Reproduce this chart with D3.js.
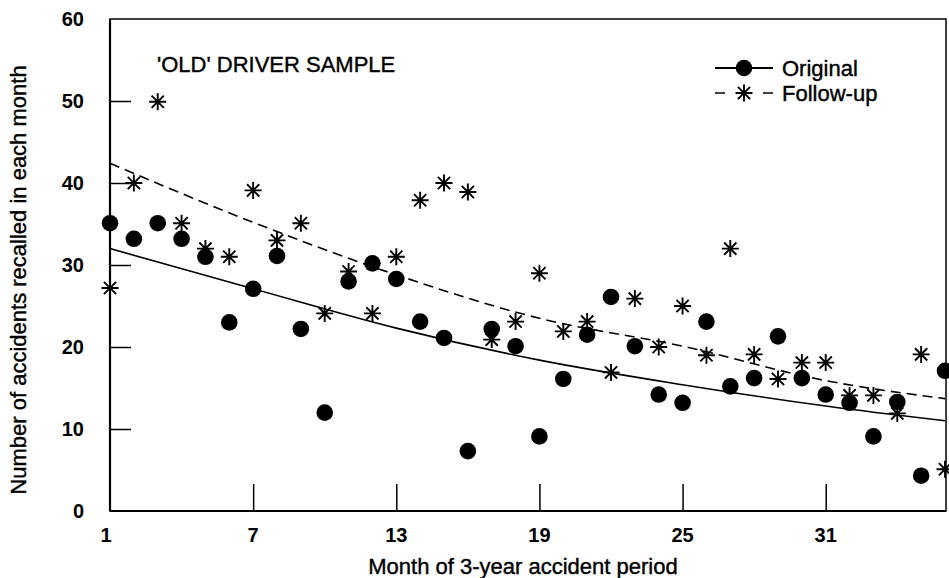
<!DOCTYPE html>
<html lang="en">
<head>
  <meta charset="utf-8" />
  <script src="https://d3js.org/d3.v7.min.js"></script>
  <title>'OLD' driver sample - accidents recalled by month</title>
  <style>
    body { margin: 0; background: #fff; }
    svg { display: block; }
    text { font-family: "Liberation Sans", Arial, Helvetica, sans-serif; fill: #000; }
    /* the scan makes the type look a bit heavier than plain regular */
    text.heavy { stroke: #000; stroke-width: 0.4px; }
  </style>
</head>
<body>
<svg width="949" height="578"></svg>
<script>

// months of the 3-year period
var months = [1, 2, 3, 4, 5, 6, 7, 8, 9, 10, 11, 12, 13, 14, 15, 16, 17, 18,
              19, 20, 21, 22, 23, 24, 25, 26, 27, 28, 29, 30, 31, 32, 33, 34, 35, 36];

// accidents recalled
var original = [35.1, 33.2, 35.1, 33.2, 31.0, 23.0, 27.1, 31.1, 22.2, 12.0, 28.0, 30.2,
                28.3, 23.1, 21.1, 7.3, 22.2, 20.1, 9.1, 16.1, 21.5, 26.1, 20.1, 14.2,
                13.2, 23.1, 15.2, 16.2, 21.3, 16.2, 14.2, 13.2, 9.1, 13.3, 4.3, 17.1];
var followup = [27.2, 40.0, 49.9, 35.1, 32.0, 31.0, 39.1, 33.0, 35.1, 24.1, 29.2, 24.1,
                31.0, 37.9, 40.0, 38.9, 20.9, 23.1, 29.0, 21.9, 23.1, 16.9, 25.9, 20.0,
                25.0, 19.0, 32.0, 19.1, 16.1, 18.1, 18.1, 14.1, 14.1, 11.9, 19.1, 5.1];

// fitted trend curves, sampled at the tick months
var trendMonths = [1, 7, 13, 19, 25, 31, 36];
var originalTrend = [32.0, 27.1, 22.3, 18.4, 15.4, 12.8, 11.0];
var followupTrend = [42.4, 35.2, 28.8, 23.5, 20.1, 15.9, 13.7];

var xTicks = [1, 7, 13, 19, 25, 31];
var yTicks = [0, 10, 20, 30, 40, 50, 60];

var seriesNames = ["Original", "Follow-up"];
var panelLabel = "'OLD' DRIVER SAMPLE";
var xTitle = "Month of 3-year accident period";
var yTitle = "Number of accidents recalled in each month";

var svg = d3.select("svg");
// plot box (note: "top" is taken by window.top, so prefix these)
var plotLeft = 110, plotRight = 946, plotTop = 19, plotBottom = 511;

var x = d3.scaleLinear().domain([1, 36]).range([plotLeft, plotRight - 1]);
var y = d3.scaleLinear().domain([0, 60]).range([plotBottom, plotTop]);

// frame
svg.append("rect")
  .attr("x", plotLeft).attr("y", plotTop)
  .attr("width", plotRight - plotLeft).attr("height", plotBottom - plotTop)
  .attr("fill", "none").attr("stroke", "#000").attr("stroke-width", 1.5);

svg.append("line")
  .attr("x1", plotLeft).attr("x2", plotLeft).attr("y1", plotTop).attr("y2", plotBottom)
  .attr("stroke", "#000").attr("stroke-width", 2.2);
svg.append("line")
  .attr("x1", plotLeft).attr("x2", plotRight).attr("y1", plotBottom).attr("y2", plotBottom)
  .attr("stroke", "#000").attr("stroke-width", 2.2);

// axes - ticks point inward
var yAxis = svg.append("g")
  .attr("transform", "translate(" + plotLeft + ",0)")
  .call(d3.axisRight(y).tickValues(yTicks).tickSize(21).tickFormat(""));
yAxis.select(".domain").remove();
yAxis.selectAll(".tick line").attr("stroke-width", 1.5);
yAxis.selectAll(".tick").filter(function(d) { return d === 0 || d === 60; }).select("line").remove();

svg.selectAll(".ylab")
  .data(yTicks)
  .enter()
  .append("text")
  .attr("class", "ylab")
  .attr("x", 84)
  .attr("y", function(d) { return y(d); })
  .attr("dy", "0.36em")
  .attr("text-anchor", "end")
  .attr("font-size", 20)
  .attr("font-weight", "bold")
  .text(function(d) { return d; });

var xAxis = svg.append("g")
  .attr("transform", "translate(0," + plotBottom + ")")
  .call(d3.axisTop(x).tickValues(xTicks).tickSize(27).tickFormat(""));
xAxis.select(".domain").remove();
xAxis.selectAll(".tick line").attr("stroke-width", 1.5);
xAxis.selectAll(".tick").filter(function(d) { return d === 1; }).select("line").remove();

svg.selectAll(".xlab")
  .data(xTicks)
  .enter()
  .append("text")
  .attr("class", "xlab")
  .attr("x", function(d) { return d === 1 ? x(d) - 4 : x(d); })
  .attr("y", 542)
  .attr("text-anchor", "middle")
  .attr("font-size", 20)
  .attr("font-weight", "bold")
  .text(function(d) { return d; });

svg.append("text")
  .attr("class", "heavy")
  .attr("x", 523)
  .attr("y", 574)
  .attr("text-anchor", "middle")
  .attr("font-size", 22)
  .text(xTitle);

svg.append("text")
  .attr("class", "heavy")
  .attr("transform", "translate(26,280) rotate(-90)")
  .attr("text-anchor", "middle")
  .attr("font-size", 22)
  .text(yTitle);

svg.append("text")
  .attr("class", "heavy")
  .attr("x", 157)
  .attr("y", 72)
  .attr("font-size", 22)
  .text(panelLabel);

// trend curves
var trendLine = d3.line()
  .x(function(d) { return x(d[0]); })
  .y(function(d) { return y(d[1]); })
  .curve(d3.curveMonotoneX);

svg.append("path")
  .datum(d3.zip(trendMonths, originalTrend))
  .attr("d", trendLine)
  .attr("fill", "none").attr("stroke", "#000").attr("stroke-width", 1.6);

svg.append("path")
  .datum(d3.zip(trendMonths, followupTrend))
  .attr("d", trendLine)
  .attr("fill", "none").attr("stroke", "#000").attr("stroke-width", 1.6)
  .attr("stroke-dasharray", "10,6");

// star marker (vertical, horizontal and two diagonals)
function starPath(r) {
  var d = r * 0.72;
  return "M0," + (-r) + "V" + r +
         "M" + (-r) + ",0H" + r +
         "M" + (-d) + "," + (-d) + "L" + d + "," + d +
         "M" + (-d) + "," + d + "L" + d + "," + (-d);
}

svg.append("g")
  .selectAll("path")
  .data(d3.zip(months, followup))
  .enter()
  .append("path")
  .attr("transform", function(d) { return "translate(" + x(d[0]) + "," + y(d[1]) + ")"; })
  .attr("d", starPath(8.5))
  .attr("stroke", "#000").attr("stroke-width", 1.9).attr("fill", "none");

svg.append("g")
  .selectAll("circle")
  .data(d3.zip(months, original))
  .enter()
  .append("circle")
  .attr("cx", function(d) { return x(d[0]); })
  .attr("cy", function(d) { return y(d[1]); })
  .attr("r", 8.3)
  .attr("fill", "#000");

// legend
var legend = svg.append("g");

legend.append("line")
  .attr("x1", 715).attr("x2", 773).attr("y1", 68).attr("y2", 68)
  .attr("stroke", "#000").attr("stroke-width", 2);
legend.append("circle")
  .attr("cx", 744).attr("cy", 68).attr("r", 8.3).attr("fill", "#000");
legend.append("text")
  .attr("class", "heavy")
  .attr("x", 782).attr("y", 68).attr("dy", "0.36em")
  .attr("font-size", 22)
  .text(seriesNames[0]);

legend.append("line")
  .attr("x1", 715).attr("x2", 773).attr("y1", 93).attr("y2", 93)
  .attr("stroke", "#000").attr("stroke-width", 1.6)
  .attr("stroke-dasharray", "10,38,10");
legend.append("path")
  .attr("transform", "translate(744,93)")
  .attr("d", starPath(8.5))
  .attr("stroke", "#000").attr("stroke-width", 1.9).attr("fill", "none");
legend.append("text")
  .attr("class", "heavy")
  .attr("x", 782).attr("y", 93).attr("dy", "0.36em")
  .attr("font-size", 22)
  .text(seriesNames[1]);

</script>
</body>
</html>
